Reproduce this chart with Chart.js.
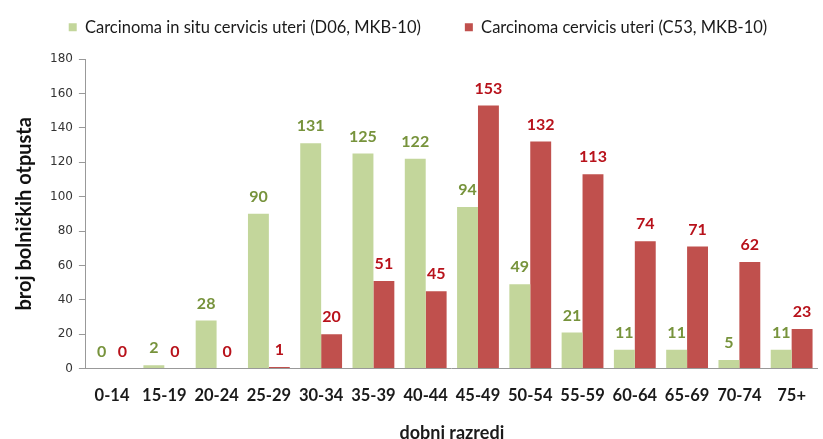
<!DOCTYPE html>
<html>
<head>
<meta charset="utf-8">
<script src="https://cdn.jsdelivr.net/npm/chart.js@4.4.0/dist/chart.umd.min.js"></script>
<style>
  html, body { margin: 0; padding: 0; background: #fff; }
  #wrap { width: 823px; height: 439px; position: relative; }
</style>
</head>
<body>
<div id="wrap"><canvas id="chart"></canvas></div>
<script>
// age groups and discharge counts
const ageGroups = ['0-14', '15-19', '20-24', '25-29', '30-34', '35-39', '40-44', '45-49', '50-54', '55-59', '60-64', '65-69', '70-74', '75+'];
const inSitu = [0, 2, 28, 90, 131, 125, 122, 94, 49, 21, 11, 11, 5, 11];
const cervix = [0, 0, 0, 1, 20, 51, 45, 153, 132, 113, 74, 71, 62, 23];
const yTicks = [0, 20, 40, 60, 80, 100, 120, 140, 160, 180];

const FONT = 'Lato, "Open Sans", sans-serif';

// simple value labels above each bar (no datalabels plugin available offline)
const valueLabels = {
    id: 'valueLabels',
    afterDatasetsDraw(chart) {
        const ctx = chart.ctx;
        ctx.save();
        ctx.font = 'bold 16px ' + FONT;
        ctx.textAlign = 'center';
        ctx.textBaseline = 'bottom';
        chart.data.datasets.forEach((ds, i) => {
            const meta = chart.getDatasetMeta(i);
            ctx.fillStyle = ds.labelColor;
            meta.data.forEach((bar, j) => {
                ctx.fillText(String(ds.data[j]), bar.x, bar.y - 9);
            });
        });
        ctx.restore();
    }
};

// wide gap between legend items, but keep the legend box short and near the top
const legendSpacing = {
    id: 'legendSpacing',
    beforeLayout(chart) {
        const legend = chart.legend;
        if (!legend || legend._patched) return;
        const fit = legend.fit;
        legend.fit = function () {
            fit.call(this);
            this.height = 59;
        };
        legend._patched = true;
    },
    afterLayout(chart) {
        const legend = chart.legend;
        const pad = legend.options.labels.padding;
        legend.top = 19 - pad;
    }
};

new Chart(document.getElementById('chart'), {
    type: 'bar',
    data: {
        labels: ageGroups,
        datasets: [
            {
                label: 'Carcinoma in situ cervicis uteri (D06, MKB-10)',
                data: inSitu,
                backgroundColor: '#c3d69b',
                labelColor: '#77933c'
            },
            {
                label: 'Carcinoma cervicis uteri (C53, MKB-10)',
                data: cervix,
                backgroundColor: '#c0504d',
                labelColor: '#b8121b'
            }
        ]
    },
    options: {
        responsive: true,
        maintainAspectRatio: false,
        animation: false,
        layout: { padding: { top: 0, right: 0, left: 13, bottom: 0 } },
        datasets: {
            bar: { categoryPercentage: 0.8, barPercentage: 1.0 }
        },
        plugins: {
            tooltip: { enabled: false },
            legend: {
                position: 'top',
                labels: {
                    font: { family: FONT, size: 16.5 },
                    color: '#1a1a1a',
                    boxWidth: 8,
                    boxHeight: 8,
                    padding: 44
                }
            }
        },
        scales: {
            x: {
                grid: { display: false, drawTicks: false },
                border: { color: '#999' },
                ticks: {
                    font: { family: FONT, size: 16.5, weight: 'bold' },
                    color: '#1a1a1a',
                    padding: 17
                },
                title: {
                    display: true,
                    text: 'dobni razredi',
                    font: { family: FONT, size: 18, weight: 'bold' },
                    color: '#1a1a1a',
                    padding: { top: 0, bottom: -5 }
                }
            },
            y: {
                min: 0,
                max: 180,
                afterBuildTicks: axis => { axis.ticks = yTicks.map(v => ({ value: v })); },
                grid: {
                    display: true,
                    drawOnChartArea: false,
                    drawTicks: true,
                    tickLength: 7,
                    color: '#999'
                },
                border: { color: '#999' },
                ticks: {
                    font: { family: '"DejaVu Sans", sans-serif', size: 12 },
                    color: '#333',
                    padding: 6
                },
                title: {
                    display: true,
                    text: 'broj bolničkih otpusta',
                    font: { family: FONT, size: 20, weight: 'bold' },
                    color: '#111',
                    padding: { top: 0, bottom: 7 }
                }
            }
        }
    },
    plugins: [legendSpacing, valueLabels]
});
</script>
</body>
</html>
